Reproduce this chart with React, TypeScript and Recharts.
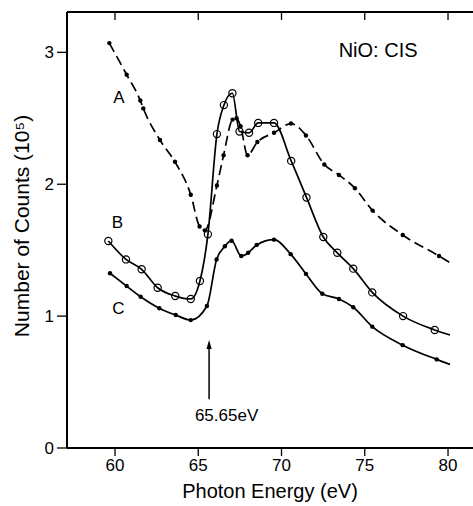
import React from 'react';
import { LineChart, Line, XAxis, YAxis, ReferenceDot, ReferenceLine, Label } from 'recharts';

// Curve A (dashed, filled dots)
const energyA = [59.66, 60.7, 61.52, 61.7, 62.7, 63.6, 64.55, 65.08, 65.4, 66.12, 66.52, 67.06, 67.3, 67.54, 67.96, 68.55, 69.55, 70.57, 71.47, 72.57, 73.45, 74.41, 75.47, 77.28, 79.46, 80.12];
const countsA = [3.07, 2.83, 2.635, 2.575, 2.335, 2.17, 1.92, 1.68, 1.65, 1.99, 2.22, 2.49, 2.5, 2.44, 2.22, 2.32, 2.39, 2.46, 2.37, 2.15, 2.07, 1.97, 1.8, 1.615, 1.456, 1.405];

// Curve B (solid, open circles)
const energyB = [59.6, 60.66, 61.6, 62.56, 63.62, 64.55, 65.1, 65.58, 66.12, 66.54, 67.05, 67.48, 68.05, 68.6, 69.55, 70.58, 71.5, 72.51, 73.35, 74.31, 75.45, 77.3, 79.2, 80.12];
const countsB = [1.57, 1.43, 1.355, 1.215, 1.152, 1.13, 1.266, 1.62, 2.38, 2.6, 2.69, 2.4, 2.39, 2.465, 2.465, 2.177, 1.9, 1.6, 1.48, 1.36, 1.18, 1.0, 0.895, 0.857];

// Curve C (solid, filled dots)
const energyC = [59.7, 60.7, 61.54, 62.66, 63.65, 64.55, 65.52, 66.1, 66.6, 67.0, 67.58, 68.0, 68.51, 69.55, 70.55, 71.47, 72.45, 73.45, 74.31, 75.45, 77.28, 79.32, 80.12];
const countsC = [1.325, 1.228, 1.147, 1.06, 1.008, 0.97, 1.077, 1.43, 1.53, 1.572, 1.456, 1.48, 1.54, 1.58, 1.47, 1.32, 1.17, 1.13, 1.067, 0.92, 0.78, 0.672, 0.634];

const xTicks = [60, 65, 70, 75, 80];
const yTicks = [0, 1, 2, 3];
const xDomain: [number, number] = [57.117, 81.5];
const yDomain: [number, number] = [0, 3.306];

const curveLabels = [
  { text: 'A', x: 60.24, y: 2.66 },
  { text: 'B', x: 60.15, y: 1.717 },
  { text: 'C', x: 60.21, y: 1.065 },
];
const titleText = { text: 'NiO: CIS', x: 75.8, y: 3.017 };
const edgeEnergy = 65.65;
const arrowBottom = 0.37;
const arrowTip = 0.819;
const edgeText = { text: '65.65eV', x: 66.7, y: 0.25 };

const toPoints = (xs: number[], ys: number[]) => xs.map((x, i) => ({ x, y: ys[i] }));
const dataA = toPoints(energyA, countsA);
const dataB = toPoints(energyB, countsB);
const dataC = toPoints(energyC, countsC);

const FONT = '"Liberation Sans", Arial, Helvetica, sans-serif';

const filledDot = (last: number) => (props: any) => {
  const { cx, cy, index } = props;
  if (index === last || cx == null) return <g key={`f${index}`} />;
  return <circle key={`f${index}`} cx={cx} cy={cy} r={2.2} fill="#000" stroke="none" />;
};
const openDot = (last: number) => (props: any) => {
  const { cx, cy, index } = props;
  if (index === last || cx == null) return <g key={`o${index}`} />;
  return <circle key={`o${index}`} cx={cx} cy={cy} r={3.6} fill="none" stroke="#000" strokeWidth={1.2} />;
};

const arrowHead = (p: any) => (
  <path d={`M${p.cx},${p.cy} L${p.cx - 2.6},${p.cy + 9} L${p.cx + 2.6},${p.cy + 9} Z`} fill="#000" />
);

export default function App() {
  return (
    <div style={{ position: 'absolute', left: 0, top: 0, background: '#fff', fontFamily: FONT }}>
      <LineChart width={473} height={506} margin={{ top: 12, right: 0, bottom: 0, left: 0 }}>
        <XAxis
          dataKey="x"
          type="number"
          domain={xDomain}
          allowDataOverflow
          ticks={xTicks}
          tickSize={8}
          tickMargin={3}
          height={58}
          axisLine={{ stroke: '#000', strokeWidth: 2 }}
          tickLine={{ stroke: '#000', strokeWidth: 1.3 }}
          tick={{ fontSize: 17, fill: '#000', fontFamily: FONT }}
        >
          <Label value="Photon Energy (eV)" position="insideBottom" offset={8} fontSize={20} fill="#000" fontFamily={FONT} />
        </XAxis>
        <XAxis
          xAxisId="top"
          orientation="top"
          dataKey="x"
          type="number"
          domain={xDomain}
          allowDataOverflow
          ticks={xTicks}
          mirror
          tickSize={8}
          tickFormatter={() => ''}
          axisLine={{ stroke: '#000', strokeWidth: 2 }}
          tickLine={{ stroke: '#000', strokeWidth: 1.3 }}
        />
        <YAxis
          type="number"
          domain={yDomain}
          allowDataOverflow
          ticks={yTicks}
          tickSize={10}
          tickMargin={3}
          width={67}
          axisLine={{ stroke: '#000', strokeWidth: 2 }}
          tickLine={{ stroke: '#000', strokeWidth: 1.3 }}
          tick={{ fontSize: 17, fill: '#000', fontFamily: FONT }}
        >
          <Label value="Number of Counts (10⁵)" angle={-90} position="center" dx={-11.5} dy={-4} fontSize={21} fill="#000" fontFamily={FONT} />
        </YAxis>

        <Line data={dataA} dataKey="y" type="monotone" stroke="#000" strokeWidth={1.7} strokeDasharray="10 5" dot={filledDot(dataA.length - 1)} activeDot={false} isAnimationActive={false} />
        <Line data={dataB} dataKey="y" type="monotone" stroke="#000" strokeWidth={1.7} dot={openDot(dataB.length - 1)} activeDot={false} isAnimationActive={false} />
        <Line data={dataC} dataKey="y" type="monotone" stroke="#000" strokeWidth={1.7} dot={filledDot(dataC.length - 1)} activeDot={false} isAnimationActive={false} />

        <ReferenceLine
          segment={[{ x: edgeEnergy, y: arrowBottom }, { x: edgeEnergy, y: arrowTip - 0.05 }]}
          stroke="#000"
          strokeWidth={1.5}
        />
        <ReferenceDot x={edgeEnergy} y={arrowTip} r={0} shape={arrowHead} />

        {curveLabels.map((c) => (
          <ReferenceDot key={c.text} x={c.x} y={c.y} r={0} fill="none" stroke="none"
            label={{ value: c.text, position: 'center', fontSize: 17, fill: '#000', fontFamily: FONT }} />
        ))}
        <ReferenceDot x={titleText.x} y={titleText.y} r={0} fill="none" stroke="none"
          label={{ value: titleText.text, position: 'center', fontSize: 20, fill: '#000', fontFamily: FONT }} />
        <ReferenceDot x={edgeText.x} y={edgeText.y} r={0} fill="none" stroke="none"
          label={{ value: edgeText.text, position: 'center', fontSize: 17, fill: '#000', fontFamily: FONT }} />
      </LineChart>
    </div>
  );
}
